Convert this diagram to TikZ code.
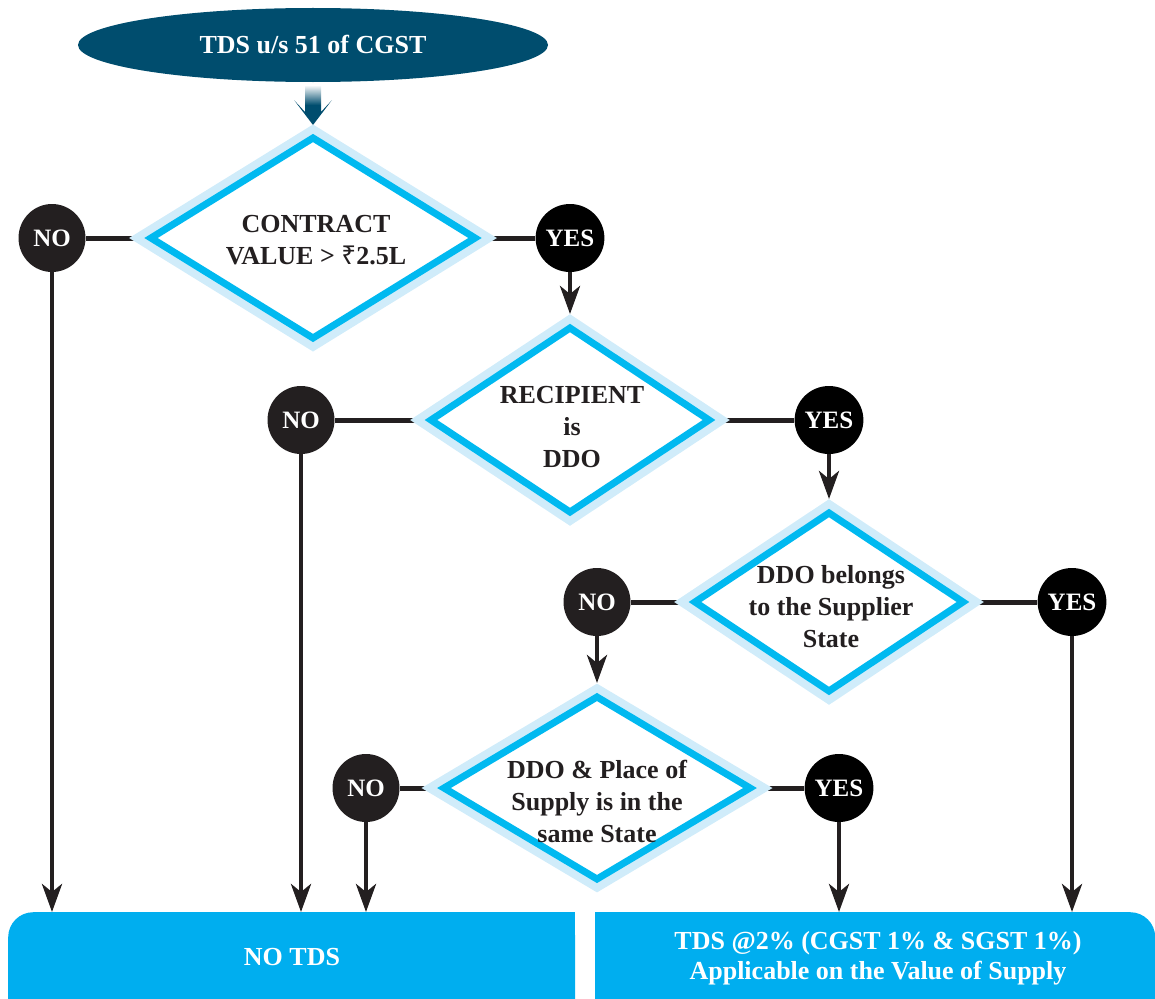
\documentclass[tikz,border=0pt]{standalone}
\usepackage{fontspec}
\setmainfont{Liberation Serif}
\newfontfamily\rupeefont{Noto Sans}
\usetikzlibrary{shapes.geometric,arrows.meta,backgrounds,calc}
\definecolor{teal1}{RGB}{0,77,110}
\definecolor{cyanl}{RGB}{0,185,240}
\definecolor{halo}{RGB}{208,236,250}
\definecolor{boxc}{RGB}{0,174,239}
\definecolor{dark}{RGB}{35,31,32}
\tikzset{
 dia/.style={diamond, draw=cyanl, line width=7pt, fill=white, inner sep=0pt, outer sep=0pt, preaction={draw=halo, line width=23pt}},
 dtext/.style={align=center, text=dark, font=\fontsize{26}{32}\selectfont\bfseries, inner sep=0pt},
 nocirc/.style={ellipse, fill=dark, minimum width=67pt, minimum height=68pt, inner sep=0pt, text=white, font=\fontsize{25}{28}\selectfont\bfseries},
 yescirc/.style={nocirc, fill=black},
 hline/.style={draw=dark, line width=5pt},
 vline/.style={draw=dark, line width=4.5pt, -{Stealth[length=28pt,width=20pt,inset=8pt]}},
 outbox/.style={fill=boxc, rounded corners=25pt, inner sep=0pt, anchor=north west},
 btext/.style={text=white, align=center, font=\fontsize{26}{30}\selectfont\bfseries}
}
\begin{document}
\begin{tikzpicture}[x=1pt,y=-1pt]
\useasboundingbox (0,0) rectangle (1155,998);
% start
\node[ellipse, fill=teal1, minimum width=470pt, minimum height=74pt, inner sep=0pt, text=white, font=\fontsize{26}{30}\selectfont\bfseries] (start) at (313,45) {TDS u/s 51 of CGST};
\shade[top color=white, bottom color=teal1, middle color=teal1] (305,85) -- (321,85) -- (321,112) -- (332,100) -- (313,125) -- (294,100) -- (305,112) -- cycle;
% diamonds
\node[dia, minimum width=324pt, minimum height=200pt] (d1) at (313,238) {};
\node[dia, minimum width=278pt, minimum height=184pt] (d2) at (570,420) {};
\node[dia, minimum width=268pt, minimum height=178pt] (d3) at (829,602) {};
\node[dia, minimum width=306pt, minimum height=182pt] (d4) at (597,788) {};
\node[dtext] (t1) at (316,240) {CONTRACT\\VALUE > {\rupeefont ₹}2.5L};
\node[dtext] (t2) at (572,427) {RECIPIENT\\is\\DDO};
\node[dtext] (t3) at (831,607) {DDO belongs\\to the Supplier\\State};
\node[dtext] (t4) at (597,801) {DDO \& Place of\\Supply is in the\\same State};
% circles
\node[nocirc] (no1) at (52,238) {NO};
\node[yescirc] (yes1) at (570,238) {YES};
\node[nocirc] (no2) at (301,420) {NO};
\node[yescirc] (yes2) at (829,420) {YES};
\node[nocirc] (no3) at (597,602) {NO};
\node[yescirc] (yes3) at (1072,602) {YES};
\node[nocirc] (no4) at (366,788) {NO};
\node[yescirc] (yes4) at (839,788) {YES};
% boxes
\node[outbox, minimum width=567pt, minimum height=130pt] (nobox) at (8,912) {};
\fill[boxc] ($(nobox.north east)+(-30pt,-30pt)$) rectangle (nobox.north east);
\node[outbox, minimum width=560pt, minimum height=130pt] (yesbox) at (595,912) {};
\fill[boxc] (yesbox.north west) rectangle ($(yesbox.north west)+(30pt,-30pt)$);
\node[btext] (nt) at (292,957) {NO TDS};
\node[btext] (yt) at (878,958) {TDS @2\% (CGST 1\% \& SGST 1\%)\\Applicable on the Value of Supply};
% connectors
\begin{pgfonlayer}{background}
\draw[hline] (no1) -- (d1.west);
\draw[hline] (yes1) -- (d1.east);
\draw[hline] (no2) -- (d2.west);
\draw[hline] (yes2) -- (d2.east);
\draw[hline] (no3) -- (d3.west);
\draw[hline] (yes3) -- (d3.east);
\draw[hline] (no4) -- (d4.west);
\draw[hline] (yes4) -- (d4.east);
\draw[vline, shorten >=14pt] (yes1) -- (d2.north);
\draw[vline, shorten >=14pt] (yes2) -- (d3.north);
\draw[vline, shorten >=14pt] (no3) -- (d4.north);
\draw[vline] (no1) -- (no1 |- nobox.north);
\draw[vline] (no2) -- (no2 |- nobox.north);
\draw[vline] (no4) -- (no4 |- nobox.north);
\draw[vline] (yes4) -- (yes4 |- yesbox.north);
\draw[vline] (yes3) -- (yes3 |- yesbox.north);
\end{pgfonlayer}
\end{tikzpicture}
\end{document}
